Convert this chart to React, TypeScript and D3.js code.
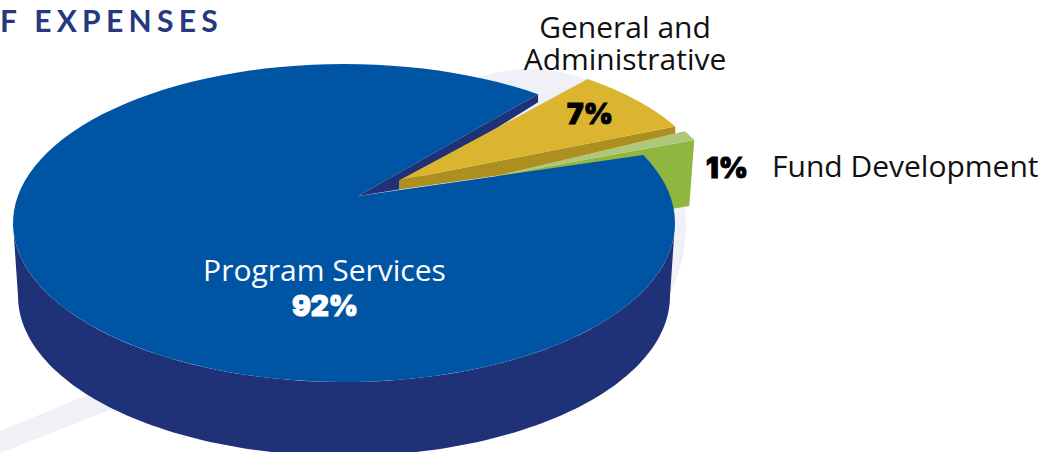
import React from "react";
import * as d3 from "d3";

const categories = ["Program Services", "General and Administrative", "Fund Development"];
const values = [92, 7, 1];
const percentLabels = ["92%", "7%", "1%"];
const titleText = "F EXPENSES";

const W = 1044, H = 452;
const deg = Math.PI / 180;
type E = { cx: number; cy: number; rx: number; ry: number };
const topE: E = { cx: 344, cy: 223, rx: 331, ry: 159 };
const botE: E = { cx: 344, cy: 296, rx: 326, ry: 160 };
const goldE: E = { cx: 410, cy: 196.5, rx: 303, ry: 145 };
const greenE: E = { cx: 395, cy: 208, rx: 331, ry: 159 };

const pt = (e: E, a: number): [number, number] => [e.cx + e.rx * Math.sin(a), e.cy - e.ry * Math.cos(a)];
const arcPts = (e: E, a0: number, a1: number) =>
  d3.range(0, 121).map((i) => pt(e, a0 + ((a1 - a0) * i) / 120));
const line = d3.line();
const closed = (pts: [number, number][]) => line(pts) + "Z";

const pie = d3.pie<number>().sort(null).startAngle(64.7 * deg).endAngle(424.7 * deg);
const [blue, gold, green] = pie(values);

const blueApex: [number, number] = [358, 196];
const goldApex: [number, number] = [399, 180.5];
const goldApexLow: [number, number] = [399, 189.5];
const sideBend: [number, number] = [498, 175.5];

const bluePath = closed([blueApex, ...arcPts(topE, blue.startAngle, blue.endAngle)]);
const wallPath = closed([...arcPts(topE, 90 * deg, 270 * deg), ...arcPts(botE, 270 * deg, 90 * deg)]);
const blueCutEnd = pt(topE, blue.endAngle);
const innerPath = closed([blueApex, blueCutEnd, [blueCutEnd[0], blueCutEnd[1] + 8], goldApexLow]);

const goldArc = arcPts(goldE, gold.startAngle, gold.endAngle);
const goldEnd = goldArc[goldArc.length - 1];
const goldTop = closed([goldApex, ...goldArc]);
const goldSide = closed([goldApex, goldEnd, [goldEnd[0], goldEnd[1] + 7], sideBend, goldApexLow]);

const greenArc = arcPts(greenE, green.startAngle, green.endAngle);
const greenOut = greenArc[greenArc.length - 1];
const greenTop = closed([sideBend, ...greenArc]);
const greenWall = closed([sideBend, greenOut, [greenOut[0] - 5, greenOut[1] + 66], [640, 214]]);

const sans = "'Open Sans', Lato, sans-serif";
const titleFont = "Lato, sans-serif";
const heavy = "Inter, Roboto, sans-serif";

export default function App() {
  return (
    <svg width={W} height={H} viewBox={`0 0 ${W} ${H}`} style={{ position: "fixed", left: 0, top: 0 }}>
      <rect width={W} height={H} fill="#fff" />
      <circle cx={530} cy={225} r={156} fill="#f0f1f7" />
      <path d={closed([[0, 431], [90, 394], [120, 406], [0, 453]])} fill="#f0f1f7" />
      <path d={greenWall} fill="#8fb63f" />
      <path d={greenTop} fill="#afc778" />
      <path d={wallPath} fill="#1f3177" />
      <path d={bluePath} fill="#0054a4" />
      <path d={innerPath} fill="#1f3177" />
      <path d={goldSide} fill="#ad8f1f" />
      <path d={goldTop} fill="#dbb530" />

      <text x={0} y={32} fontFamily={titleFont} fontWeight={700} fontSize={30} letterSpacing={5.3} fill="#26397f">{titleText}</text>

      <g fontFamily={sans} fontSize={30} fontWeight={400} fill="#111" textAnchor="middle">
        <text x={625} y={38}>General and</text>
        <text x={625} y={70}>Administrative</text>
      </g>
      <text x={772} y={177} fontFamily={sans} fontSize={30} fontWeight={400} fill="#111">{categories[2]}</text>
      <text x={324.5} y={281} fontFamily={sans} fontSize={30} fontWeight={400} fill="#fff" textAnchor="middle">{categories[0]}</text>

      <text x={325} y={316} fontFamily={heavy} fontWeight={900} fontSize={28} fill="#fff" stroke="#fff" strokeWidth={1} textAnchor="middle">{percentLabels[0]}</text>
      <text x={590} y={124} fontFamily={heavy} fontWeight={900} fontSize={28} fill="#000" stroke="#000" strokeWidth={1} textAnchor="middle">{percentLabels[1]}</text>
      <text x={727} y={178} fontFamily={heavy} fontWeight={900} fontSize={28} fill="#000" stroke="#000" strokeWidth={1} textAnchor="middle">{percentLabels[2]}</text>
    </svg>
  );
}
